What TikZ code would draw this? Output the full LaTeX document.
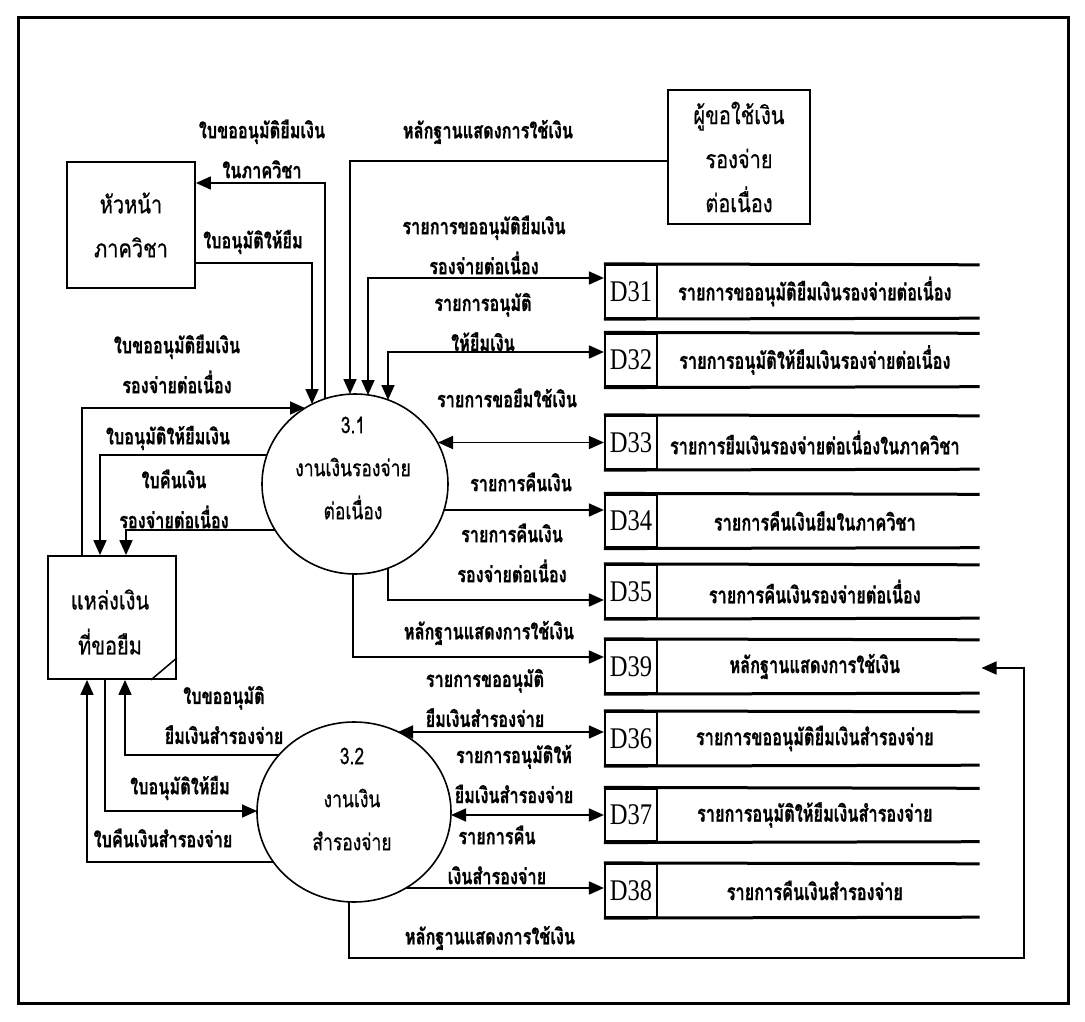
\documentclass[tikz,border=0pt]{standalone}
\usepackage{fontspec}
\setmainfont{Liberation Serif}
\newfontfamily\thaibox[Script=Thai,FakeStretch=0.8,FakeBold=0.6]{Loma}
\newfontfamily\thaiproc[Script=Thai,FakeStretch=0.76,FakeBold=0.6]{Loma}
\newfontfamily\thailabel[Script=Thai,FakeStretch=0.74,BoldFeatures={FakeBold=0.8}]{Loma}
\newfontfamily\thaistore[Script=Thai,FakeStretch=0.71,BoldFeatures={FakeBold=0.8}]{Loma}
\newfontfamily\storeid[FakeStretch=0.82]{Liberation Serif}
\usetikzlibrary{arrows.meta,calc,shapes.geometric}

\tikzset{
  flow/.style={line width=1.7pt,-{Triangle[length=15pt,width=13pt]}},
  flowboth/.style={line width=1.7pt,{Triangle[length=15pt,width=13pt]}-{Triangle[length=15pt,width=13pt]}},
  entity/.style={draw,line width=1.8pt,inner sep=0pt,align=center,
    font=\thaibox\fontsize{25}{44}\selectfont},
  process/.style={draw,ellipse,line width=1.6pt,inner sep=0pt},
  proctext/.style={align=center,inner sep=0pt,
    font=\thaiproc\fontsize{23}{43}\selectfont},
  dcell/.style={draw,line width=2.2pt,minimum width=52pt,minimum height=53pt,
    inner sep=0pt,font=\storeid\fontsize{30}{30}\selectfont},
  dbody/.style={anchor=west,minimum width=313pt,minimum height=53pt,inner sep=0pt,
    font=\thaistore\bfseries\fontsize{23}{23}\selectfont},
  storeline/.style={line width=3pt},
  flowlabel/.style={align=center,inner sep=0pt,
    font=\thailabel\bfseries\fontsize{22}{40}\selectfont},
}

\begin{document}
\begin{tikzpicture}[x=1pt,y=-1pt]
\useasboundingbox (0,0) rectangle (1085,1022);
\draw[line width=3pt] (18,18) rectangle (1068,1003);

% external entities
\node[entity,minimum width=128pt,minimum height=126pt] (head) at (131,225) {หัวหน้า\\ภาควิชา};
\node[entity,minimum width=142pt,minimum height=134pt] (req) at (739,157) {ผู้ขอใช้เงิน\\รองจ่าย\\ต่อเนื่อง};
\node[entity,minimum width=128pt,minimum height=123pt] (src) at (112,617.5) {};
\node[proctext,font=\thaibox\fontsize{25}{45}\selectfont] (srctext) at (110,622) {แหล่งเงิน\\ที่ขอยืม};
\draw[line width=1.5pt] ([xshift=-26pt]src.south east) -- ([yshift=22pt]src.south east);

% processes
\node[process,minimum width=186pt,minimum height=180pt] (p31) at (355,484) {};
\node[proctext] (p31text) at (353,468) {3.1\\งานเงินรองจ่าย\\ต่อเนื่อง};
\node[process,minimum width=194pt,minimum height=180pt] (p32) at (354,812) {};
\node[proctext] (p32text) at (352,799) {3.2\\งานเงิน\\สำรองจ่าย};

% data stores
\foreach \n/\y/\t in {
  31/291.5/{รายการขออนุมัติยืมเงินรองจ่ายต่อเนื่อง},
  32/360/{รายการอนุมัติให้ยืมเงินรองจ่ายต่อเนื่อง},
  33/442.5/{รายการยืมเงินรองจ่ายต่อเนื่องในภาควิชา},
  34/521/{รายการคืนเงินยืมในภาควิชา},
  35/591.5/{รายการคืนเงินรองจ่ายต่อเนื่อง},
  39/666.5/{หลักฐานแสดงการใช้เงิน},
  36/738.5/{รายการขออนุมัติยืมเงินสำรองจ่าย},
  37/815/{รายการอนุมัติให้ยืมเงินสำรองจ่าย},
  38/890.5/{รายการคืนเงินสำรองจ่าย}} {
  \node[dcell] (d\n) at (631,\y) {D\n};
  \node[dbody] (b\n) at (d\n.east) {\t};
  \draw[storeline] (d\n.north west) -- ([xshift=8pt]b\n.north east);
  \draw[storeline] (d\n.south west) -- ([xshift=8pt]b\n.south east);
}

% flows of 3.1
\draw[flow] ([yshift=-38pt]head.east) -| ($(p31)+(-43,-80)$);
\draw[flow] ($(p31)+(-30,-85)$) |- ([yshift=42pt]head.east);
\draw[flow] ([yshift=-4pt]req.west) -| ($(p31)+(-5,-90)$);
\draw[flowboth] ($(p31)+(13,-89)$) |- ([yshift=13.5pt]d31.west);
\draw[flowboth] ($(p31)+(33,-84)$) |- ([yshift=8pt]d32.west);
\draw[flowboth] ($(p31)+(83,-41.5)$) -- (d33.west);
\draw[flow] ($(p31)+(89,26)$) -- ([yshift=11pt]d34.west);
\draw[flow] ($(p31)+(33,84)$) |- ([yshift=-8.5pt]d35.west);
\draw[flow] ($(p31)+(-2,90)$) |- ([yshift=9.5pt]d39.west);
\draw[flow] ([xshift=-30pt]src.north) |- ($(p31)+(-50,-76)$);
\draw[flow] ($(p31)+(-88,-29)$) -| ([xshift=-12pt]src.north);
\draw[flow] ($(p31)+(-80,46)$) -| ([xshift=14pt]src.north);

% flows of 3.2
\draw[flow] ($(p32)+(-75,-57)$) -| ([xshift=13pt]src.south);
\draw[flow] ([xshift=-7pt]src.south) |- ($(p32)+(-97,-1)$);
\draw[flow] ($(p32)+(-81,50)$) -| ([xshift=-25pt]src.south);
\draw[flowboth] ($(p32)+(44,-80)$) -- ([yshift=6.5pt]d36.west);
\draw[flowboth] ($(p32)+(97,3)$) -- (d37.west);
\draw[flow] ($(p32)+(52,76)$) -- ([yshift=2.5pt]d38.west);
\coordinate (loopturn) at (1024,958);
\draw[flow] ($(p32)+(-5,90)$) |- (loopturn) |- ([xshift=10pt,yshift=-1.5pt]b39.east);

% flow labels
\node[flowlabel] (l1) at (262,149) {ใบขออนุมัติยืมเงิน\\ในภาควิชา};
\node[flowlabel] (l2) at (253,242) {ใบอนุมัติให้ยืม};
\node[flowlabel] (l3) at (488,132) {หลักฐานแสดงการใช้เงิน};
\node[flowlabel] (l4) at (484,245) {รายการขออนุมัติยืมเงิน\\รองจ่ายต่อเนื่อง};
\node[flowlabel] (l5) at (483,322) {รายการอนุมัติ\\ให้ยืมเงิน};
\node[flowlabel] (l6) at (507,398) {รายการขอยืมใช้เงิน};
\node[flowlabel] (l7) at (521,482) {รายการคืนเงิน};
\node[flowlabel] (l8) at (512,553) {รายการคืนเงิน\\รองจ่ายต่อเนื่อง};
\node[flowlabel] (l9) at (489,633) {หลักฐานแสดงการใช้เงิน};
\node[flowlabel] (l10) at (485,698) {รายการขออนุมัติ\\ยืมเงินสำรองจ่าย};
\node[flowlabel] (l11) at (514,774) {รายการอนุมัติให้\\ยืมเงินสำรองจ่าย};
\node[flowlabel] (l12) at (497,855) {รายการคืน\\เงินสำรองจ่าย};
\node[flowlabel] (l13) at (490,938) {หลักฐานแสดงการใช้เงิน};
\node[flowlabel] (l14) at (177,364) {ใบขออนุมัติยืมเงิน\\รองจ่ายต่อเนื่อง};
\node[flowlabel] (l15) at (168,438) {ใบอนุมัติให้ยืมเงิน};
\node[flowlabel] (l16) at (174,499) {ใบคืนเงิน\\รองจ่ายต่อเนื่อง};
\node[flowlabel] (l17) at (224,715) {ใบขออนุมัติ\\ยืมเงินสำรองจ่าย};
\node[flowlabel] (l18) at (180,788) {ใบอนุมัติให้ยืม};
\node[flowlabel] (l19) at (163,838) {ใบคืนเงินสำรองจ่าย};
\end{tikzpicture}
\end{document}
